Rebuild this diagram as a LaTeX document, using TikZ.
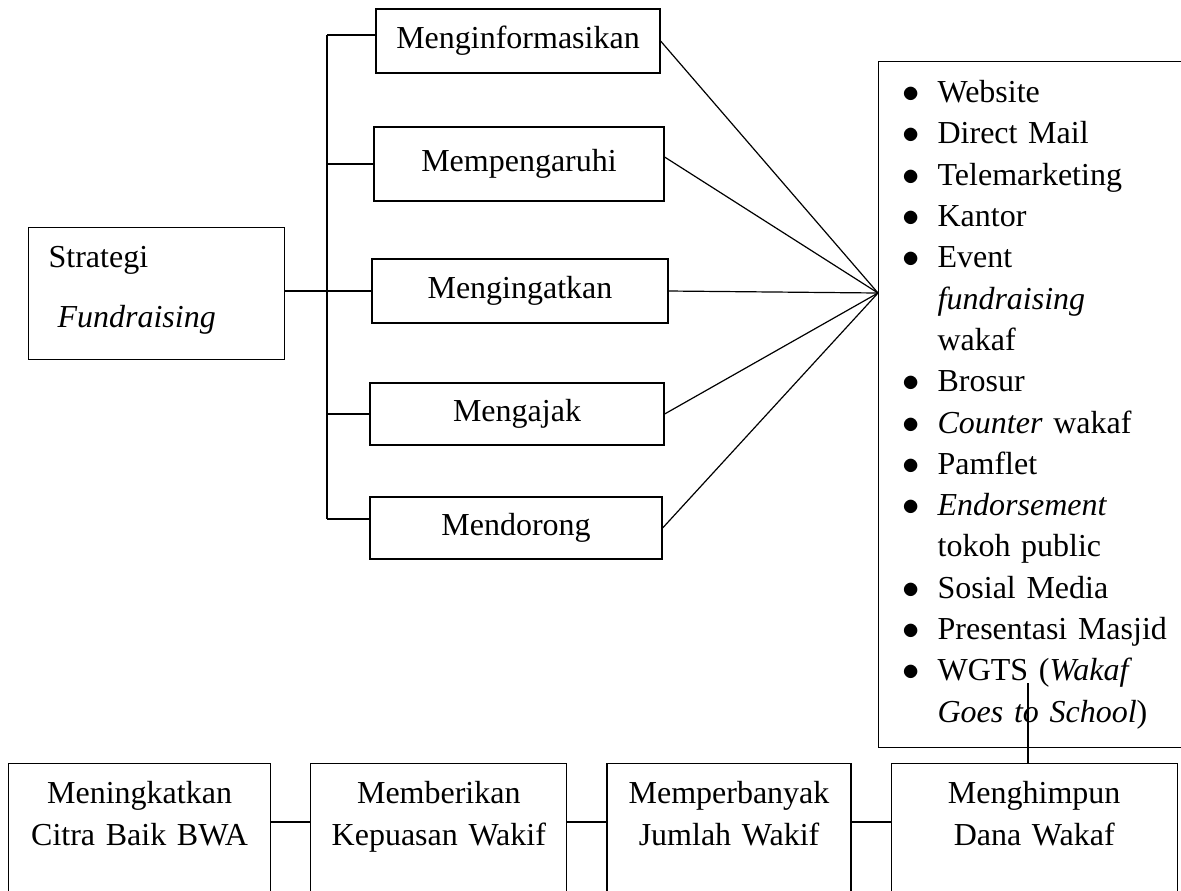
\documentclass[tikz,border=0pt]{standalone}
\usepackage{fontspec}
\setmainfont{Liberation Serif}
\usetikzlibrary{positioning}
\newcommand{\listbullet}{\makebox[17.5pt][l]{$\bullet$}}
\newcommand{\listindent}{\hspace*{17.5pt}}
\tikzset{
  aim box/.style={
    rectangle, draw, line width=0.6pt, inner sep=0pt,
    font=\fontsize{16}{21}\selectfont
  },
  goal box/.style={
    rectangle, draw, line width=0.6pt, align=center,
    inner xsep=4pt, inner ysep=9.1pt, text height=10.9pt, text depth=60pt,
    font=\fontsize{16}{21}\selectfont
  },
  media box/.style={
    rectangle, draw, line width=0.6pt, align=left, anchor=north west,
    text width=140pt, inner xsep=12pt, inner ysep=9.6pt,
    text height=10.9pt, text depth=312.9pt,
    font=\fontsize{16}{20.65}\selectfont
  },
  link line/.style={line width=0.6pt}
}

\begin{document}
\begin{tikzpicture}[x=0.5pt, y=-0.5pt, node distance=19.5pt]
    \useasboundingbox (0,0) rectangle (1181,890);
    \clip (0,0) rectangle (1181,890);
    \node[aim box, anchor=north west, align=left, text width=108pt, inner xsep=10pt,
      inner ysep=9.2pt, text height=10.8pt, text depth=36.8pt] (strategi) at (28,227)
      {Strategi\\[9pt]\hspace*{4.5pt}\textit{Fundraising}};
    \node[aim box, minimum width=142pt, minimum height=32pt] (inform) at (518,41) {Menginformasikan};
    \node[aim box, minimum width=145pt, minimum height=37pt] (pengaruh) at (519,164) {Mempengaruhi};
    \node[aim box, minimum width=148pt, minimum height=32pt] (ingat) at (520,291) {Mengingatkan};
    \node[aim box, minimum width=147pt, minimum height=31pt] (ajak) at (517,414) {Mengajak};
    \node[aim box, minimum width=146pt, minimum height=31pt] (dorong) at (516,528) {Mendorong};
    \node[media box] (media) at (878,61) {%
      \listbullet Website\\
      \listbullet Direct Mail\\
      \listbullet Telemarketing\\
      \listbullet Kantor\\
      \listbullet Event\\
      \listindent\textit{fundraising}\\
      \listindent wakaf\\
      \listbullet Brosur\\
      \listbullet\textit{Counter} wakaf\\
      \listbullet Pamflet\\
      \listbullet\textit{Endorsement}\\
      \listindent tokoh public\\
      \listbullet Sosial Media\\
      \listbullet Presentasi Masjid\\
      \listbullet WGTS (\textit{Wakaf}\\
      \listindent\textit{Goes to School})};
    \node[goal box, anchor=north west, text width=123pt] (citra) at (8,763) {Meningkatkan\\Citra Baik BWA};
    \node[goal box, text width=120pt, right=of citra] (kepuasan) {Memberikan\\Kepuasan Wakif};
    \node[goal box, text width=114pt, right=of kepuasan] (jumlah) {Memperbanyak\\Jumlah Wakif};
    \node[goal box, text width=135pt, right=of jumlah] (dana) {Menghimpun\\Dana Wakaf};
    \coordinate (brtop) at (327,35);
    \coordinate (brbot) at (327,519);
    \coordinate (apex) at (878,293);
    \coordinate (wgts) at (1028,683);
    \draw[link line] (brtop) -- (brbot);
    \draw[link line] (brtop) -- (brtop -| inform.west);
    \draw[link line] (pengaruh.west) -- (pengaruh.west -| brtop);
    \draw[link line] (ajak.west) -- (ajak.west -| brtop);
    \draw[link line] (brbot) -- (brbot -| dorong.west);
    \draw[link line] (ingat.west -| strategi.east) -- (ingat.west);
    \draw[link line] (inform.east) -- (apex);
    \draw[link line] ([yshift=3.5pt]pengaruh.east) -- (apex);
    \draw[link line] (ingat.east) -- (apex);
    \draw[link line] (ajak.east) -- (apex);
    \draw[link line] (dorong.east) -- (apex);
    \draw[link line] (wgts) -- (wgts |- dana.north);
    \draw[link line] ([yshift=-29.5pt]citra.north east) -- ([yshift=-29.5pt]kepuasan.north west);
    \draw[link line] ([yshift=-29.5pt]kepuasan.north east) -- ([yshift=-29.5pt]jumlah.north west);
    \draw[link line] ([yshift=-29.5pt]jumlah.north east) -- ([yshift=-29.5pt]dana.north west);
\end{tikzpicture}
\end{document}
